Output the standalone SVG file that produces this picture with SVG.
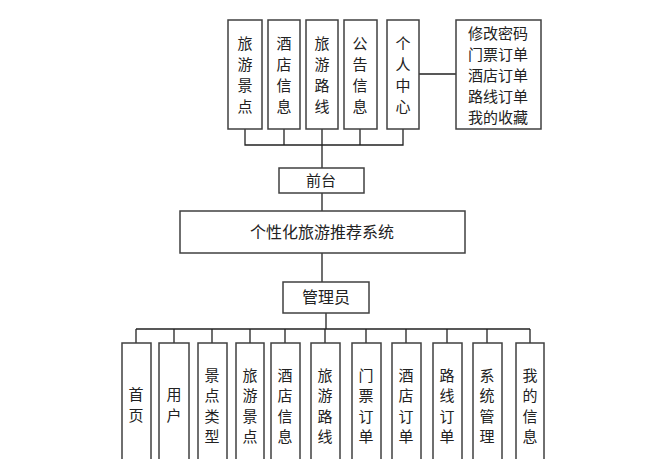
<svg xmlns="http://www.w3.org/2000/svg" width="652" height="459" viewBox="0 0 652 459">
<style>
rect{fill:#fff;stroke:#404040;stroke-width:1.5}
line,path{stroke:#222;stroke-width:1.3;fill:none}
text{font-family:"Noto Sans CJK SC","Liberation Sans",sans-serif;font-size:15px;fill:#222;text-anchor:middle}
</style>
<rect x="0" y="0" width="652" height="459" style="stroke:none"/>
<g id="connectors">
<path d="M245 129V145H403V129M284 129V145M322 129V168M360 129V145M419 74H456M322 193V211M322 253V282M326 313V329M136 329H530M136 329V343M174 329V343M212 329V343M250 329V343M285 329V343M325 329V343M366 329V343M406 329V343M447 329V343M487 329V343M530 329V343"/>
</g>
<g id="t1"><rect x="228" y="20" width="34" height="109"/><text x="245" y="49">旅</text><text x="245" y="70">游</text><text x="245" y="91">景</text><text x="245" y="112">点</text></g>
<g id="t2"><rect x="268" y="20" width="32" height="109"/><text x="284" y="49">酒</text><text x="284" y="70">店</text><text x="284" y="91">信</text><text x="284" y="112">息</text></g>
<g id="t3"><rect x="306" y="20" width="32" height="109"/><text x="322" y="49">旅</text><text x="322" y="70">游</text><text x="322" y="91">路</text><text x="322" y="112">线</text></g>
<g id="t4"><rect x="344" y="20" width="33" height="109"/><text x="360" y="49">公</text><text x="360" y="70">告</text><text x="360" y="91">信</text><text x="360" y="112">息</text></g>
<g id="t5"><rect x="387" y="20" width="32" height="109"/><text x="403" y="49">个</text><text x="403" y="70">人</text><text x="403" y="91">中</text><text x="403" y="112">心</text></g>
<g id="t6"><rect x="456" y="20" width="85" height="109"/><text x="498" y="39">修改密码</text><text x="498" y="60">门票订单</text><text x="498" y="81">酒店订单</text><text x="498" y="102">路线订单</text><text x="498" y="123">我的收藏</text></g>
<g id="qiantai"><rect x="279" y="168" width="85" height="25"/><text x="321" y="186">前台</text></g>
<g id="system"><rect x="180" y="211" width="285" height="42"/><text x="322" y="238" style="font-size:16px">个性化旅游推荐系统</text></g>
<g id="admin"><rect x="283" y="282" width="86" height="31"/><text x="326" y="303" style="font-size:16px">管理员</text></g>
<g id="b1"><rect x="122" y="343" width="29" height="130"/><text x="136" y="400">首</text><text x="136" y="421">页</text></g>
<g id="b2"><rect x="159" y="343" width="30" height="130"/><text x="174" y="400">用</text><text x="174" y="421">户</text></g>
<g id="b3"><rect x="198" y="343" width="29" height="130"/><text x="212" y="381">景</text><text x="212" y="401">点</text><text x="212" y="422">类</text><text x="212" y="442">型</text></g>
<g id="b4"><rect x="236" y="343" width="28" height="130"/><text x="250" y="381">旅</text><text x="250" y="401">游</text><text x="250" y="422">景</text><text x="250" y="442">点</text></g>
<g id="b5"><rect x="271" y="343" width="29" height="130"/><text x="285" y="381">酒</text><text x="285" y="401">店</text><text x="285" y="422">信</text><text x="285" y="442">息</text></g>
<g id="b6"><rect x="311" y="343" width="29" height="130"/><text x="325" y="381">旅</text><text x="325" y="401">游</text><text x="325" y="422">路</text><text x="325" y="442">线</text></g>
<g id="b7"><rect x="352" y="343" width="29" height="130"/><text x="366" y="381">门</text><text x="366" y="401">票</text><text x="366" y="422">订</text><text x="366" y="442">单</text></g>
<g id="b8"><rect x="392" y="343" width="29" height="130"/><text x="406" y="381">酒</text><text x="406" y="401">店</text><text x="406" y="422">订</text><text x="406" y="442">单</text></g>
<g id="b9"><rect x="433" y="343" width="29" height="130"/><text x="447" y="381">路</text><text x="447" y="401">线</text><text x="447" y="422">订</text><text x="447" y="442">单</text></g>
<g id="b10"><rect x="473" y="343" width="29" height="130"/><text x="487" y="381">系</text><text x="487" y="401">统</text><text x="487" y="422">管</text><text x="487" y="442">理</text></g>
<g id="b11"><rect x="516" y="343" width="28" height="130"/><text x="530" y="381">我</text><text x="530" y="401">的</text><text x="530" y="422">信</text><text x="530" y="442">息</text></g>
</svg>
